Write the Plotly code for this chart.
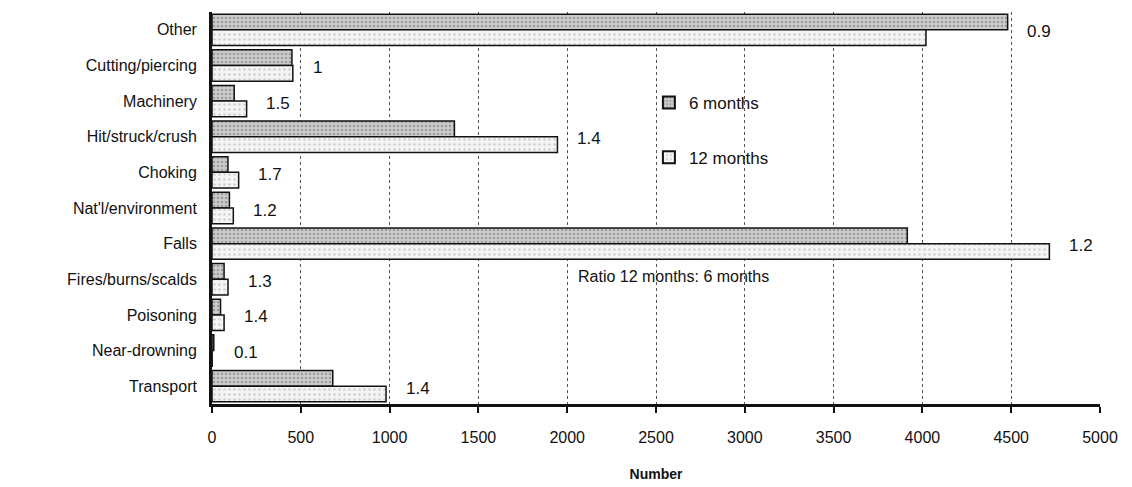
import plotly.graph_objects as go

# injury categories, top to bottom as drawn
categories = ['Other', 'Cutting/piercing', 'Machinery', 'Hit/struck/crush', 'Choking',
              "Nat'l/environment", 'Falls', 'Fires/burns/scalds', 'Poisoning',
              'Near-drowning', 'Transport']
six_months = [4480, 450, 125, 1365, 90, 98, 3915, 68, 48, 10, 680]
twelve_months = [4020, 455, 195, 1945, 150, 120, 4715, 90, 68, 1, 980]
ratio_labels = ['0.9', '1', '1.5', '1.4', '1.7', '1.2', '1.2', '1.3', '1.4', '0.1', '1.4']
x_ticks = [0, 500, 1000, 1500, 2000, 2500, 3000, 3500, 4000, 4500, 5000]

FONT = 'Liberation Sans, Arial, sans-serif'

fig = go.Figure()
fig.add_trace(go.Bar(
    y=categories, x=six_months, orientation='h', name='6 months', legend='legend',
    marker=dict(color='#c4c4c4', line=dict(color='#111111', width=1.5),
                pattern=dict(shape='.', fgcolor='#6f6f6f', bgcolor='#cccccc', size=4, solidity=0.35)),
))
fig.add_trace(go.Bar(
    y=categories, x=twelve_months, orientation='h', name='12 months', legend='legend2',
    marker=dict(color='#efefef', line=dict(color='#111111', width=1.5),
                pattern=dict(shape='.', fgcolor='#aaaaaa', bgcolor='#f4f4f4', size=5, solidity=0.2)),
))

# ratio labels to the right of each pair of bars
for cat, a, b, r in zip(categories, six_months, twelve_months, ratio_labels):
    fig.add_annotation(x=max(a, b) + 100, y=cat, text=r, xref='x', yref='y',
                       xanchor='left', yanchor='middle', showarrow=False,
                       yshift=-2, font=dict(size=17, color='#111111', family=FONT))

fig.add_annotation(x=0.41, y=0.325, xref='paper', yref='paper', text='Ratio 12 months: 6 months',
                   showarrow=False, xanchor='left', yanchor='middle',
                   font=dict(size=16, color='#111111', family=FONT))

legend_style = dict(xanchor='left', yanchor='middle', bgcolor='rgba(0,0,0,0)',
                    font=dict(size=17, family=FONT), itemsizing='constant')

# page body has an 8px default margin, so margins are offset to match
fig.update_layout(
    width=1132, height=487,
    margin=dict(l=204, r=40, t=4, b=91),
    paper_bgcolor='#FFFFFF',
    plot_bgcolor='#FFFFFF',
    font=dict(family=FONT, size=16, color='#111111'),
    barmode='group', bargap=0.12, bargroupgap=0,
    showlegend=True,
    legend=dict(x=0.492, y=0.768, **legend_style),
    legend2=dict(x=0.492, y=0.628, **legend_style),
)
fig.update_xaxes(
    range=[0, 5000], tickvals=x_ticks, ticks='outside', ticklen=6, tickwidth=2, tickcolor='#111111',
    showline=True, linecolor='#111111', linewidth=3,
    showgrid=True, gridcolor='#555555', griddash='dot', gridwidth=1,
    zeroline=False, tickfont=dict(size=16, family=FONT), automargin=False,
    ticklabelstandoff=11,
    title=dict(text='<b>Number</b>', font=dict(size=14, family=FONT), standoff=24),
)
fig.update_yaxes(
    categoryorder='array', categoryarray=categories, autorange='reversed',
    showline=True, linecolor='#111111', linewidth=3, ticks='', showgrid=False,
    tickfont=dict(size=16, family=FONT), ticksuffix='  ', automargin=False,
)

fig.write_html('out.html')
